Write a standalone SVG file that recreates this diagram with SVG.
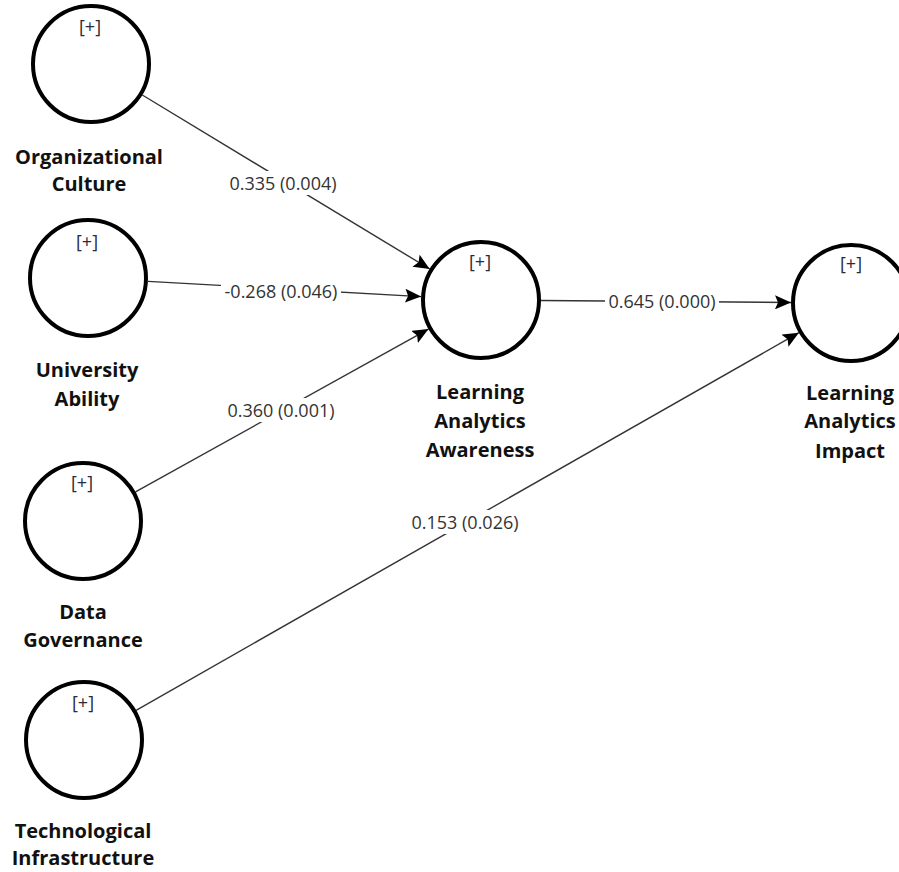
<svg xmlns="http://www.w3.org/2000/svg" width="899" height="872" viewBox="0 0 899 872">
<defs>
<style>
.node{fill:#fff;stroke:#000;stroke-width:4}
.plus{font-family:"Open Sans","Noto Sans",sans-serif;font-size:18px;fill:#2a2a3a;text-anchor:middle}
.lbl{font-family:"Open Sans","Noto Sans",sans-serif;font-size:20px;font-weight:bold;fill:#111;text-anchor:middle}
.edge{stroke:#333;stroke-width:1.4;fill:none;marker-end:url(#arr)}
.elbl{font-family:"Open Sans","Noto Sans",sans-serif;font-size:18px;fill:#333;text-anchor:middle}
.bg{fill:#fff}
</style>
<marker id="arr" markerUnits="userSpaceOnUse" markerWidth="17" markerHeight="14" refX="16" refY="7" orient="auto">
<path d="M0,0 L16,7 L0,14 L3,7 z" fill="#000"/>
</marker>
</defs>
<rect width="899" height="872" fill="#fff"/>
<g id="connectors">
<line class="edge" x1="142.3" y1="95" x2="429.7" y2="269"/>
<line class="edge" x1="148" y1="281.4" x2="421.1" y2="296.6"/>
<line class="edge" x1="135.5" y1="491.9" x2="428.5" y2="329.1"/>
<line class="edge" x1="541" y1="300.5" x2="791" y2="302.5"/>
<line class="edge" x1="136.1" y1="710.3" x2="798.9" y2="332.7"/>
<rect class="bg" x="226" y="171" width="114" height="24"/>
<text class="elbl" x="283" y="189.5">0.335 (0.004)</text>
<rect class="bg" x="221" y="279" width="120" height="24"/>
<text class="elbl" x="281" y="297.5">-0.268 (0.046)</text>
<rect class="bg" x="224" y="398" width="114" height="24"/>
<text class="elbl" x="281" y="416.5">0.360 (0.001)</text>
<rect class="bg" x="605" y="289" width="114" height="24"/>
<text class="elbl" x="662" y="307.5">0.645 (0.000)</text>
<rect class="bg" x="408" y="510" width="114" height="24"/>
<text class="elbl" x="465" y="528.5">0.153 (0.026)</text>
</g>
<g id="organizational-culture">
<circle class="node" cx="91" cy="64" r="58"/>
<text class="plus" x="90" y="33">[+]</text>
<text class="lbl" x="89" y="164">Organizational</text>
<text class="lbl" x="89" y="191">Culture</text>
</g>
<g id="university-ability">
<circle class="node" cx="88" cy="278" r="58"/>
<text class="plus" x="87" y="248">[+]</text>
<text class="lbl" x="87" y="377">University</text>
<text class="lbl" x="87" y="406">Ability</text>
</g>
<g id="data-governance">
<circle class="node" cx="83" cy="521" r="58"/>
<text class="plus" x="82" y="489">[+]</text>
<text class="lbl" x="83" y="619">Data</text>
<text class="lbl" x="83" y="647">Governance</text>
</g>
<g id="technological-infrastructure">
<circle class="node" cx="84" cy="740" r="58"/>
<text class="plus" x="83" y="709">[+]</text>
<text class="lbl" x="83" y="838">Technological</text>
<text class="lbl" x="83" y="865">Infrastructure</text>
</g>
<g id="learning-analytics-awareness">
<circle class="node" cx="481" cy="300" r="58"/>
<text class="plus" x="480" y="268">[+]</text>
<text class="lbl" x="480" y="399">Learning</text>
<text class="lbl" x="480" y="428">Analytics</text>
<text class="lbl" x="480" y="457">Awareness</text>
</g>
<g id="learning-analytics-impact">
<circle class="node" cx="851" cy="303" r="58"/>
<text class="plus" x="851" y="270">[+]</text>
<text class="lbl" x="850" y="400">Learning</text>
<text class="lbl" x="850" y="428">Analytics</text>
<text class="lbl" x="850" y="458">Impact</text>
</g>
</svg>
